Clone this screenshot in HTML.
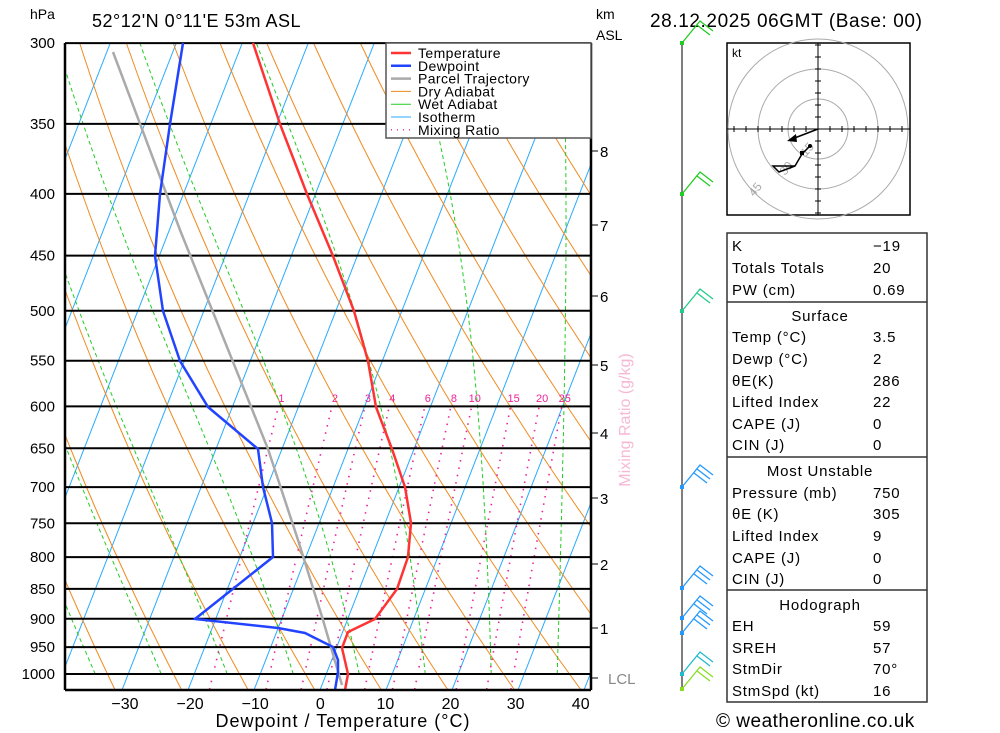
<!DOCTYPE html>
<html><head><meta charset="utf-8"><style>
body{margin:0;background:#fff;}
svg{display:block;font-family:"Liberation Sans",sans-serif;}
</style></head><body>
<svg id="s" width="1000" height="733" viewBox="0 0 1000 733" xmlns="http://www.w3.org/2000/svg">
<defs><clipPath id="c"><rect x="65" y="43" width="526" height="647"/></clipPath></defs>
<g id="bg" clip-path="url(#c)"></g>
<g id="fg"></g>
</svg>
<script>
const NS="http://www.w3.org/2000/svg";
const bg=document.getElementById('bg'),fg=document.getElementById('fg');
function el(p,tag,a,txt){const e=document.createElementNS(NS,tag);for(const k in a)e.setAttribute(k,a[k]);if(txt!==undefined)e.textContent=txt;p.appendChild(e);return e;}
function Y(p){return 674-524*Math.log(1000/p);}
function X(T,y){return 320+6.6*T+0.39*(690-y);}
function pl(par,pts,a){a.points=pts.map(q=>q[0].toFixed(1)+','+q[1].toFixed(1)).join(' ');a.fill='none';return el(par,'polyline',a);}
function pAt(y){return 1000*Math.exp((y-674)/524);}
for(let T=-160;T<=50;T+=10){pl(bg,[[X(T,690),690],[X(T,43),43]],{stroke:'#29aaff','stroke-width':1});}
for(let th=200;th<=500;th+=10){const pts=[];for(let y=690;y>=40;y-=8){const p=pAt(y);const T=th*Math.pow(p/1000,0.2857)-273.15;pts.push([X(T,y),y]);}pl(bg,pts,{stroke:'#f08a20','stroke-width':1});}
function es(Tc){return 6.112*Math.exp(17.67*Tc/(Tc+243.5));}
for(let T0=-35;T0<=45;T0+=10){let T=T0+273.15,p=1000;const pts=[[X(T0,Y(1000)),Y(1000)]];while(p>290){const dp=-2;const Tc=T-273.15;const e=es(Tc);const rs=0.622*e/(p-e);const dTdp=(287*T+2.5e6*rs)/(p*(1004+2.5e6*2.5e6*rs*0.622/(287*T*T)));T+=dTdp*dp;p+=dp;if(Math.round(p)%10===0)pts.push([X(T-273.15,Y(p)),Y(p)]);}
pl(bg,pts,{stroke:'#22cc22','stroke-width':1,'stroke-dasharray':'4,3'});}
const ws=[1,2,3,4,6,8,10,15,20,25];
for(const w of ws){const pts=[];for(let p=1030;p>=600;p-=10){const e=w/1000*p/(0.622+w/1000);const l=Math.log(e/6.112);const Td=243.5*l/(17.67-l);pts.push([X(Td,Y(p)),Y(p)]);}pl(bg,pts,{stroke:'#ee2299','stroke-width':1.6,'stroke-dasharray':'1.5,6'});
const e=w/1000*600/(0.622+w/1000);const l=Math.log(e/6.112);const Td=243.5*l/(17.67-l);el(bg,'text',{x:X(Td,Y(600))+3,y:402,'font-size':11,fill:'#ee2299','text-anchor':'middle'},String(w));}
const P=[300,350,400,450,500,550,600,650,700,750,800,850,900,950,1000];
for(const p of P){const y=Y(p);el(fg,'line',{x1:65,x2:591,y1:y,y2:y,stroke:'#000','stroke-width':2});el(fg,'text',{x:55,y:y+5,'font-size':15,'text-anchor':'end'},String(p));}
pl(fg,[[113,52],[180,230],[268,449],[298,540],[303,556],[323,620],[342,685]],{stroke:'#aaa','stroke-width':2.5});
pl(fg,[[253,43],[280,124],[307,194],[333,256],[354,311],[368,361],[376,407],[392,449],[405,487],[411,523],[408,557],[397,589],[375,619],[348,632],[342,648],[348,674],[345,690]],{stroke:'#ff3333','stroke-width':2.5});
pl(fg,[[183,43],[170,124],[160,194],[155,256],[163,311],[180,361],[208,407],[258,449],[263,487],[272,523],[273,557],[195,619],[278,628],[305,633],[333,647],[338,660],[338,672],[335,690]],{stroke:'#2244ff','stroke-width':2.5});
el(fg,'line',{x1:65,x2:65,y1:43,y2:690,stroke:'#000','stroke-width':2.5});
el(fg,'line',{x1:65,x2:591,y1:690,y2:690,stroke:'#000','stroke-width':2.5});
el(fg,'line',{x1:591,x2:591,y1:43,y2:690,stroke:'#000','stroke-width':2.5});
[-30,-20,-10,0,10,20,30,40].forEach((t,i)=>{const x=125+i*65.1;el(fg,'text',{x:x,y:709,'font-size':16,'text-anchor':'middle'},(t<0?'\u2212'+(-t):String(t)));});
el(fg,'text',{x:343,y:727,'font-size':18,'text-anchor':'middle','letter-spacing':'1'},'Dewpoint / Temperature (°C)');
el(fg,'text',{x:30,y:19,'font-size':14},'hPa');
el(fg,'text',{x:92,y:27,'font-size':18,'letter-spacing':'0.5'},"52°12'N  0°11'E  53m  ASL");
el(fg,'text',{x:596,y:19,'font-size':14},'km');
el(fg,'text',{x:596,y:40,'font-size':14},'ASL');
el(fg,'text',{x:650,y:27,'font-size':19,'letter-spacing':'0.6'},'28.12.2025 06GMT (Base: 00)');
el(fg,'rect',{x:386,y:43,width:205,height:95,fill:'#fff',stroke:'#555','stroke-width':1.5});
const L=[['Temperature','#ff3333',2.5,''],['Dewpoint','#2244ff',2.5,''],['Parcel Trajectory','#aaa',2.5,''],['Dry Adiabat','#f08a20',1,''],['Wet Adiabat','#22cc22',1,''],['Isotherm','#29aaff',1,''],['Mixing Ratio','#ee2299',1.3,'1,5']];
L.forEach((l,i)=>{const y=53+i*12.8;const a={x1:391,x2:411,y1:y,y2:y,stroke:l[1],'stroke-width':l[2]};if(l[3])a['stroke-dasharray']=l[3];el(fg,'line',a);el(fg,'text',{x:418,y:y+5,'font-size':14,'letter-spacing':'0.4'},l[0]);});
[[8,151],[7,225],[6,296],[5,365],[4,433],[3,498],[2,564],[1,628]].forEach(k=>{el(fg,'line',{x1:591,x2:598,y1:k[1],y2:k[1],stroke:'#000'});el(fg,'text',{x:600,y:k[1]+6,'font-size':15},String(k[0]));});
el(fg,'line',{x1:591,x2:598,y1:678,y2:678,stroke:'#000'});
el(fg,'text',{x:608,y:684,'font-size':15,fill:'#888'},'LCL');
el(fg,'text',{x:0,y:0,'font-size':16,fill:'#f7b8d6','text-anchor':'middle',transform:'translate(630,420) rotate(-90)'},'Mixing Ratio (g/kg)');
el(fg,'line',{x1:682,x2:682,y1:43,y2:690,stroke:'#555','stroke-width':1.5});
const B=[[43,'#22cc22'],[194,'#22cc22'],[311,'#22cc88'],[487,'#2299ff'],[588,'#2299ff'],[618,'#2299ff'],[633,'#2299ff'],[674,'#22bbcc'],[689,'#88dd22']];
B.forEach(b=>{const y=b[0],c=b[1];el(fg,'rect',{x:680,y:y-2,width:4,height:4,fill:c});pl(fg,[[682,y],[700,y-22],[713,y-12]],{stroke:c,'stroke-width':1.3});pl(fg,[[697,y-18],[710,y-8]],{stroke:c,'stroke-width':1.3});if(y>480&&y<660)pl(fg,[[694,y-14],[707,y-4]],{stroke:c,'stroke-width':1.3});});
el(fg,'rect',{x:727,y:43,width:183,height:172,fill:'#fff',stroke:'#000','stroke-width':1.5});
const cx=818,cy=129;
[30,60,90].forEach(r=>el(fg,'circle',{cx:cx,cy:cy,r:r,fill:'none',stroke:'#aaa'}));
el(fg,'line',{x1:727,x2:910,y1:cy,y2:cy,stroke:'#000'});el(fg,'line',{x1:cx,x2:cx,y1:43,y2:215,stroke:'#000'});
for(let d=-84;d<=84;d+=12){if(!d)continue;el(fg,'line',{x1:cx+d,x2:cx+d,y1:cy-3,y2:cy+3,stroke:'#000'});el(fg,'line',{x1:cx-3,x2:cx+3,y1:cy+d,y2:cy+d,stroke:'#000'});}
el(fg,'text',{x:732,y:57,'font-size':12},'kt');
el(fg,'text',{x:0,y:0,'font-size':12,fill:'#aaa',transform:'translate(806,157) rotate(-50)'},'15');
el(fg,'text',{x:0,y:0,'font-size':12,fill:'#aaa',transform:'translate(785,176) rotate(-50)'},'30');
el(fg,'text',{x:0,y:0,'font-size':12,fill:'#aaa',transform:'translate(754,197) rotate(-50)'},'45');
pl(fg,[[810,146],[802,154],[795,166],[773,166],[779,172],[795,166]],{stroke:'#000','stroke-width':1.5});
pl(fg,[[818,129],[792,139]],{stroke:'#000','stroke-width':1.5});
el(fg,'polygon',{points:'787,141 796,134 797,142',fill:'#000'});
el(fg,'circle',{cx:810,cy:146,r:2,fill:'#000'});el(fg,'rect',{x:800,y:151,width:4,height:4,fill:'#000'});
el(fg,'rect',{x:727,y:233,width:200,height:469,fill:'none',stroke:'#333','stroke-width':1.5});
[302,457,590].forEach(y=>el(fg,'line',{x1:727,x2:927,y1:y,y2:y,stroke:'#333','stroke-width':1.5}));
const R=[[245,'K','\u221219'],[267,'Totals Totals','20'],[289,'PW (cm)','0.69'],[315,'#Surface'],[336,'Temp (°C)','3.5'],[358,'Dewp (°C)','2'],[380,'θE(K)','286'],[401,'Lifted Index','22'],[423,'CAPE (J)','0'],[444,'CIN (J)','0'],[470,'#Most Unstable'],[492,'Pressure (mb)','750'],[513,'θE (K)','305'],[535,'Lifted Index','9'],[557,'CAPE (J)','0'],[578,'CIN (J)','0'],[604,'#Hodograph'],[625,'EH','59'],[647,'SREH','57'],[668,'StmDir','70°'],[690,'StmSpd (kt)','16']];
R.forEach(r=>{if(r[1][0]=='#'){el(fg,'text',{x:820,y:r[0]+6,'font-size':15,'text-anchor':'middle','letter-spacing':'0.8'},r[1].slice(1));}else{el(fg,'text',{x:732,y:r[0]+6,'font-size':15,'letter-spacing':'0.8'},r[1]);el(fg,'text',{x:873,y:r[0]+6,'font-size':15,'letter-spacing':'0.8'},r[2]);}});
el(fg,'text',{x:716,y:727,'font-size':19,'letter-spacing':'0.5'},'© weatheronline.co.uk');
</script>
</body></html>
